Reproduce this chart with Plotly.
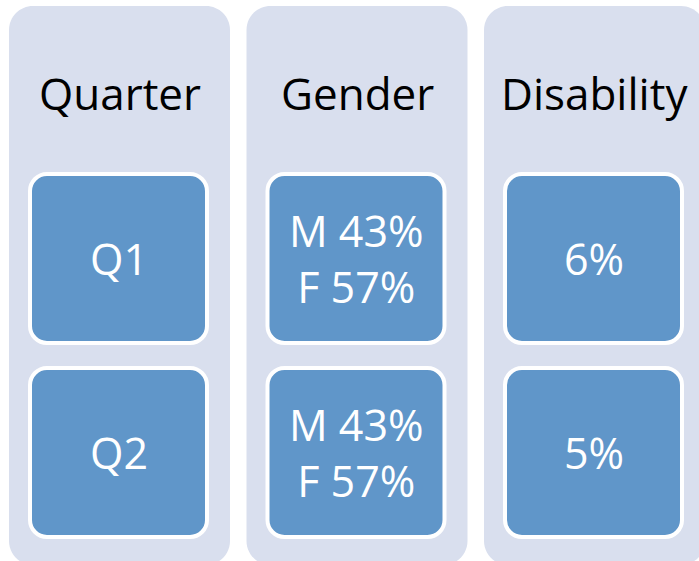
import plotly.graph_objects as go

categories = ["Quarter", "Gender", "Disability"]
rows = ["Q1", "Q2"]
quarter_values = ["Q1", "Q2"]
gender_values = ["M 43%<br>F 57%", "M 43%<br>F 57%"]
disability_values = ["6%", "5%"]
values = [quarter_values, gender_values, disability_values]

W, H = 699, 561
PANEL_X0, PANEL_STEP, PANEL_W = 9, 237.5, 221
PANEL_Y0, PANEL_Y1 = 6, 565
BOX_DX0, BOX_DX1 = 21, 198
BOX_Y = [(174, 343), (368, 537)]
PANEL_COLOR = "#D9DFEE"
BOX_COLOR = "#6096C9"
FONT = "Open Sans"


def rrect(x0, y0, x1, y1, r):
    k = 0.5523 * r
    return (f"M {x0+r},{y0} L {x1-r},{y0} C {x1-r+k},{y0} {x1},{y0+r-k} {x1},{y0+r} "
            f"L {x1},{y1-r} C {x1},{y1-r+k} {x1-r+k},{y1} {x1-r},{y1} L {x0+r},{y1} "
            f"C {x0+r-k},{y1} {x0},{y1-r+k} {x0},{y1-r} L {x0},{y0+r} "
            f"C {x0},{y0+r-k} {x0+r-k},{y0} {x0+r},{y0} Z")


fig = go.Figure()
shapes = []
annotations = []
for i, cat in enumerate(categories):
    px0 = PANEL_X0 + i * PANEL_STEP
    px1 = px0 + PANEL_W
    shapes.append(dict(type="path", path=rrect(px0, PANEL_Y0, px1, PANEL_Y1, 24),
                       xref="x", yref="y", fillcolor=PANEL_COLOR, line=dict(width=0),
                       layer="below"))
    cx = (px0 + px1) / 2
    annotations.append(dict(x=cx, y=93, text=cat, showarrow=False, xref="x", yref="y",
                            font=dict(family=FONT, size=44, color="black"),
                            xanchor="center", yanchor="middle"))
    for j, (by0, by1) in enumerate(BOX_Y):
        bx0, bx1 = px0 + BOX_DX0, px0 + BOX_DX1
        shapes.append(dict(type="path", path=rrect(bx0, by0, bx1, by1, 17),
                           xref="x", yref="y", fillcolor=BOX_COLOR,
                           line=dict(color="white", width=4), layer="below"))
        annotations.append(dict(x=(bx0 + bx1) / 2, y=(by0 + by1) / 2, text=values[i][j],
                                showarrow=False, xref="x", yref="y",
                                font=dict(family=FONT, size=43, color="white"),
                                xanchor="center", yanchor="middle"))

fig.update_layout(
    width=W, height=H, margin=dict(l=0, r=0, t=0, b=0),
    paper_bgcolor="white", plot_bgcolor="white",
    xaxis=dict(range=[0, W], visible=False, fixedrange=True),
    yaxis=dict(range=[H, 0], visible=False, fixedrange=True),
    shapes=shapes, annotations=annotations, showlegend=False,
)
fig.write_html("out.html", config={"displayModeBar": False},
               post_script="document.body.style.margin='0';")
